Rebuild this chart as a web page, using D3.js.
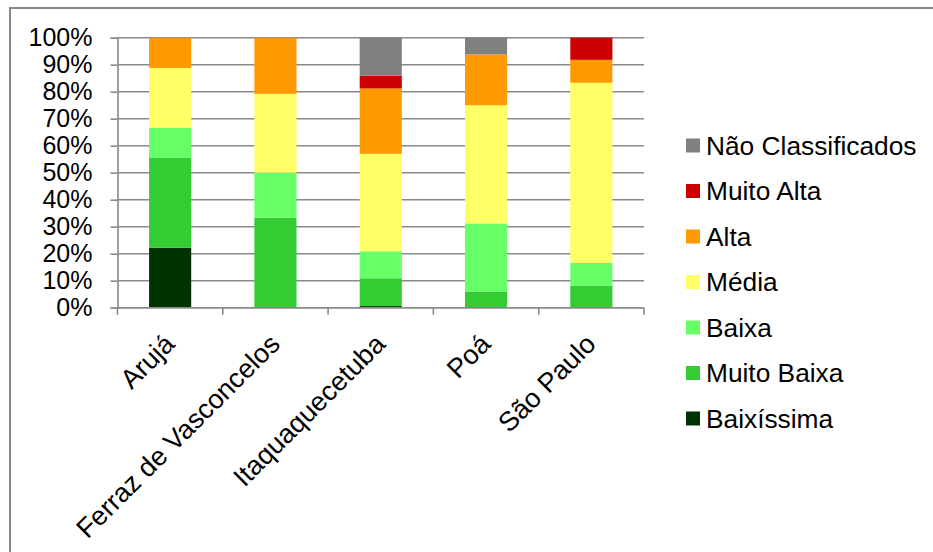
<!DOCTYPE html>
<html>
<head>
<meta charset="utf-8">
<script src="https://cdn.jsdelivr.net/npm/d3@7"></script>
<style>
  html, body { margin: 0; padding: 0; background: #fff; }
  svg { display: block; font-family: "Liberation Sans", Arial, sans-serif; }
</style>
</head>
<body>
<svg id="chart" width="933" height="552"></svg>
<script>
// Municipalities along the x axis
const categories = ["Arujá", "Ferraz de Vasconcelos", "Itaquaquecetuba", "Poá", "São Paulo"];

// Share (%) of each class per municipality, bottom to top of each bar
const baixissima        = [22.2, 0.0,  0.6,  0.0,  0.0];
const muitoBaixa        = [33.3, 33.3, 10.3, 6.0,  8.2];
const baixa             = [11.1, 16.7, 10.0, 25.2, 8.4];
const media             = [22.2, 29.2, 36.1, 43.8, 66.7];
const alta              = [11.2, 20.8, 24.2, 18.8, 8.5];
const muitoAlta         = [0.0,  0.0,  4.7,  0.0,  8.2];
const naoClassificados  = [0.0,  0.0,  14.1, 6.2,  0.0];

const seriesNames  = ["Baixíssima", "Muito Baixa", "Baixa", "Média", "Alta", "Muito Alta", "Não Classificados"];
const seriesValues = [baixissima, muitoBaixa, baixa, media, alta, muitoAlta, naoClassificados];
const seriesColors = ["#003300", "#33CC33", "#66FF66", "#FFFF66", "#FF9900", "#CC0000", "#808080"];

const yTicks = [0, 10, 20, 30, 40, 50, 60, 70, 80, 90, 100];

const svg = d3.select("#chart");
const gridColor = "#898989";

// outer frame
svg.append("rect")
  .attr("x", 10).attr("y", 8)
  .attr("width", 940).attr("height", 560)
  .attr("fill", "none")
  .attr("stroke", gridColor)
  .attr("stroke-width", 2);

const plot = { left: 117.5, right: 644, top: 37.7, bottom: 307.7 };

const x = d3.scaleBand()
  .domain(categories)
  .range([plot.left, plot.right])
  .paddingInner(0.6)
  .paddingOuter(0.3);

const y = d3.scaleLinear()
  .domain([0, 100])
  .range([plot.bottom, plot.top]);

// rows for the stack layout
const rows = categories.map((c, i) => {
  const r = { category: c };
  seriesNames.forEach((s, j) => { r[s] = seriesValues[j][i]; });
  return r;
});
const stacked = d3.stack().keys(seriesNames)(rows);
const color = d3.scaleOrdinal().domain(seriesNames).range(seriesColors);

// horizontal gridlines
svg.append("g")
  .selectAll("line")
  .data(yTicks)
  .join("line")
  .attr("x1", plot.left).attr("x2", plot.right)
  .attr("y1", d => y(d)).attr("y2", d => y(d))
  .attr("stroke", gridColor)
  .attr("stroke-width", 1.6);

// stacked bars
svg.append("g")
  .selectAll("g")
  .data(stacked)
  .join("g")
  .attr("fill", d => color(d.key))
  .selectAll("rect")
  .data(d => d)
  .join("rect")
  .attr("x", d => x(d.data.category))
  .attr("width", x.bandwidth())
  .attr("y", d => y(d[1]))
  .attr("height", d => Math.max(0, y(d[0]) - y(d[1])));

// y axis
const yAxis = svg.append("g")
  .attr("transform", `translate(${plot.left},0)`)
  .call(d3.axisLeft(y).tickValues(yTicks).tickFormat(d => d + "%").tickSize(7).tickPadding(18));
yAxis.select(".domain").attr("stroke", gridColor).attr("stroke-width", 1.6);
yAxis.selectAll(".tick line").attr("stroke", gridColor).attr("stroke-width", 1.6);
yAxis.selectAll(".tick text")
  .attr("fill", "#000")
  .style("font-size", "25px")
  .style("font-family", "'Liberation Sans', Arial, sans-serif");

// x axis line and category boundary ticks
const xg = svg.append("g");
xg.append("line")
  .attr("x1", plot.left).attr("x2", plot.right)
  .attr("y1", plot.bottom).attr("y2", plot.bottom)
  .attr("stroke", gridColor).attr("stroke-width", 1.6);
const boundaries = d3.range(categories.length + 1).map(i => x.range()[0] + i * x.step());
xg.selectAll("line.bt")
  .data(boundaries)
  .join("line")
  .attr("class", "bt")
  .attr("x1", d => d).attr("x2", d => d)
  .attr("y1", plot.bottom).attr("y2", plot.bottom + 7)
  .attr("stroke", gridColor).attr("stroke-width", 1.6);

// rotated category labels
xg.selectAll("text")
  .data(categories)
  .join("text")
  .attr("transform", d => `translate(${x(d) + x.bandwidth() / 2 + 6},${plot.bottom + 38}) rotate(-45)`)
  .attr("text-anchor", "end")
  .style("font-size", "27px")
  .attr("fill", "#000")
  .text(d => d);

// legend, top entry is the last series
const legendNames = seriesNames.slice().reverse();
const legend = svg.append("g");
const lg = legend.selectAll("g")
  .data(legendNames)
  .join("g")
  .attr("transform", (d, i) => `translate(686,${145.5 + i * 45.5})`);
lg.append("rect")
  .attr("x", 0).attr("y", -7)
  .attr("width", 14).attr("height", 14)
  .attr("fill", d => color(d));
lg.append("text")
  .attr("x", 20)
  .attr("dy", "0.35em")
  .style("font-size", "26.3px")
  .attr("fill", "#000")
  .text(d => d);
</script>
</body>
</html>
